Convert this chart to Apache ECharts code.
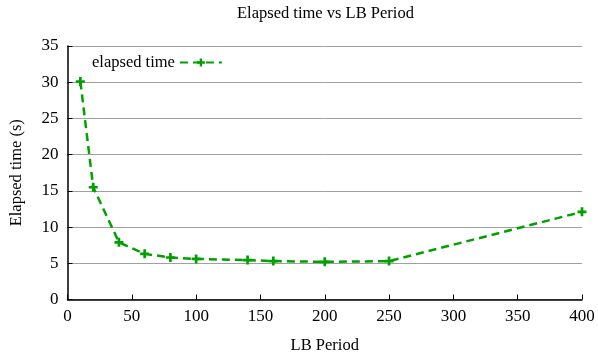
<!DOCTYPE html>
<html><head><meta charset="utf-8">
<script src="https://cdn.jsdelivr.net/npm/echarts@6/dist/echarts.min.js"></script>
<style>html,body{margin:0;padding:0;background:#fff}#c{width:598px;height:356px}</style>
</head><body><div id="c"></div>
<script>
var lbPeriod = [10, 20, 40, 60, 80, 100, 140, 160, 200, 250, 400];
var elapsed = [30.1, 15.5, 7.9, 6.3, 5.8, 5.6, 5.45, 5.3, 5.2, 5.3, 12.1];
var seriesName = 'elapsed time';
var FONT = 'Liberation Serif';
var plus = 'path://M3.5,0H6.5V3.5H10V6.5H6.5V10H3.5V6.5H0V3.5H3.5Z';
var chart = echarts.init(document.getElementById('c'));
chart.setOption({
  animation: false,
  title: {text: 'Elapsed time vs LB Period', left: 232, top: 0,
    textStyle: {fontFamily: FONT, fontSize: 16.5, fontWeight: 'normal', color: '#000'}},
  legend: {data: [seriesName], left: 87, top: 49, align: 'right', itemWidth: 42, itemHeight: 10,
    textStyle: {fontFamily: FONT, fontSize: 16.5, color: '#000'}},
  grid: {left: 67.5, right: 16, top: 46, bottom: 56.5, containLabel: false, outerBoundsMode: 'none'},
  xAxis: {type: 'value', min: 0, max: 400, interval: 50,
    name: 'LB Period', nameLocation: 'middle', nameGap: 38,
    nameTextStyle: {fontFamily: FONT, fontSize: 16.5, color: '#000'},
    axisLine: {lineStyle: {color: '#000', width: 1.5}},
    axisTick: {inside: true, length: 5, lineStyle: {color: '#000'}},
    axisLabel: {fontFamily: FONT, fontSize: 17, color: '#000', margin: 9},
    splitLine: {show: false}},
  yAxis: {type: 'value', min: 0, max: 35, interval: 5,
    name: 'Elapsed time (s)', nameLocation: 'middle', nameGap: 42,
    nameTextStyle: {fontFamily: FONT, fontSize: 16.5, color: '#000'},
    axisLine: {show: true, lineStyle: {color: '#000', width: 1.5}},
    axisTick: {show: true, inside: true, length: 5, lineStyle: {color: '#000'}},
    axisLabel: {fontFamily: FONT, fontSize: 17, color: '#000', margin: 9},
    splitLine: {show: true, lineStyle: {color: '#a0a0a0', width: 1}}},
  series: [{name: seriesName, type: 'line',
    data: lbPeriod.map(function (x, i) { return [x, elapsed[i]]; }),
    symbol: plus, symbolSize: 9, showAllSymbol: true,
    lineStyle: {color: '#00a000', width: 2.5, type: [8, 5]},
    itemStyle: {color: '#00a000'}}]
});
</script></body></html>
